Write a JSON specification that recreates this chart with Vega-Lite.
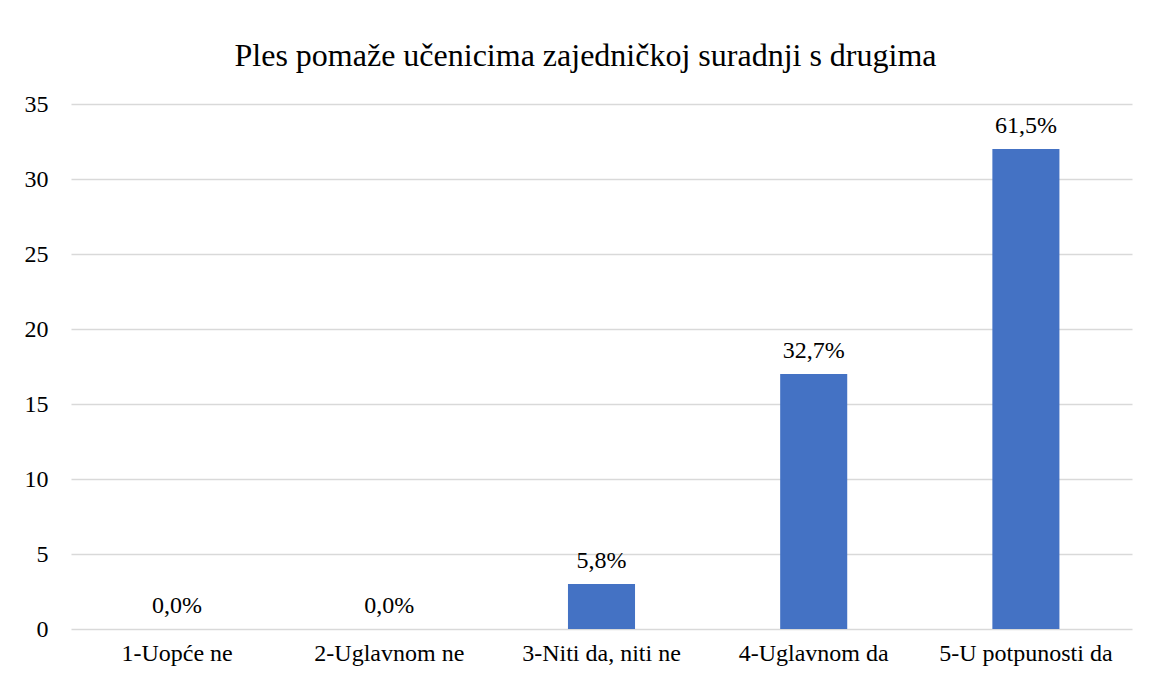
{
  "$schema": "https://vega.github.io/schema/vega-lite/v6.json",
  "width": 1061,
  "height": 525,
  "autosize": {"type": "none"},
  "padding": {"left": 71, "top": 104, "right": 19, "bottom": 48},
  "background": "white",
  "title": {
    "text": "Ples pomaže učenicima zajedničkoj suradnji s drugima",
    "font": "Liberation Serif",
    "fontSize": 32,
    "fontWeight": "normal",
    "color": "#000000",
    "anchor": "middle",
    "dx": -16,
    "offset": 19
  },
  "data": {
    "values": [
      {"category": "1-Uopće ne", "count": 0, "label": "0,0%"},
      {"category": "2-Uglavnom ne", "count": 0, "label": "0,0%"},
      {"category": "3-Niti da, niti ne", "count": 3, "label": "5,8%"},
      {"category": "4-Uglavnom da", "count": 17, "label": "32,7%"},
      {"category": "5-U potpunosti da", "count": 32, "label": "61,5%"}
    ]
  },
  "encoding": {
    "x": {
      "field": "category",
      "type": "nominal",
      "sort": null,
      "scale": {"paddingInner": 0.684, "paddingOuter": 0.342},
      "axis": {
        "title": null,
        "labelAngle": 0,
        "ticks": false,
        "domain": false,
        "labelFont": "Liberation Serif",
        "labelFontSize": 24,
        "labelColor": "#000000",
        "labelPadding": 12
      }
    },
    "y": {
      "field": "count",
      "type": "quantitative",
      "scale": {"domain": [0, 35]},
      "axis": {
        "title": null,
        "values": [0, 5, 10, 15, 20, 25, 30, 35],
        "ticks": false,
        "domain": false,
        "grid": true,
        "gridColor": "#d9d9d9",
        "gridWidth": 1.5,
        "labelFont": "Liberation Serif",
        "labelFontSize": 24,
        "labelColor": "#000000",
        "labelPadding": 23
      }
    }
  },
  "layer": [
    {"mark": {"type": "bar", "color": "#4472C4"}},
    {
      "mark": {
        "type": "text",
        "font": "Liberation Serif",
        "fontSize": 24,
        "color": "#000000",
        "baseline": "alphabetic",
        "dy": -16
      },
      "encoding": {"text": {"field": "label"}}
    }
  ],
  "config": {
    "view": {"stroke": null}
  }
}
